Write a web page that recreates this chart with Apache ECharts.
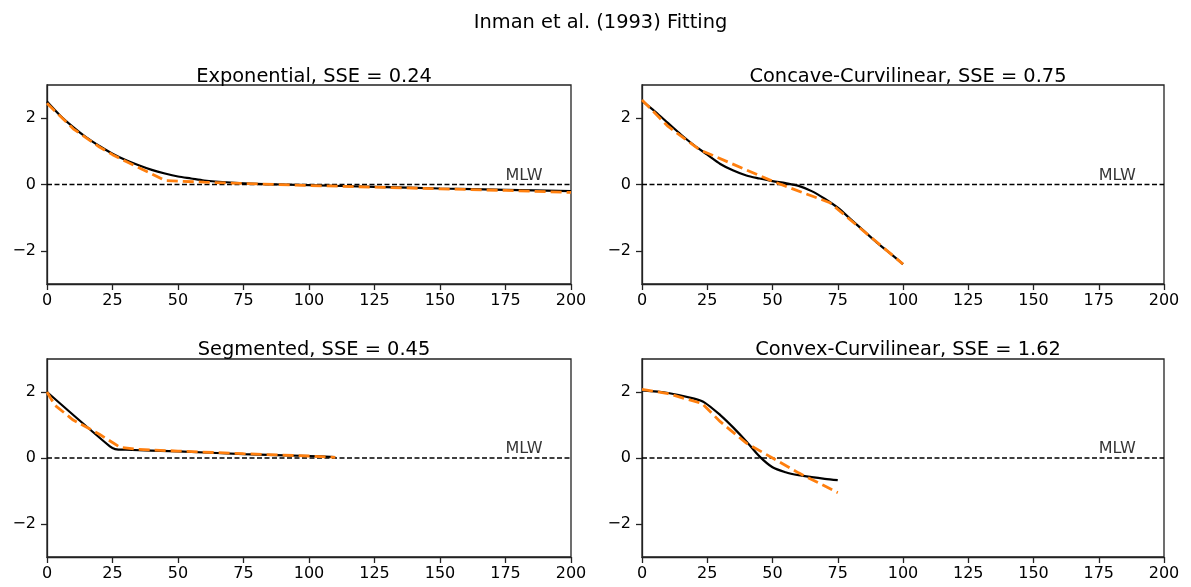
<!DOCTYPE html>
<html>
<head>
<meta charset="utf-8">
<script src="https://cdn.jsdelivr.net/npm/echarts@6/dist/echarts.min.js"></script>
<style>
html,body{margin:0;padding:0;background:#fff;}
#chart{width:1191px;height:587px;}
</style>
</head>
<body>
<div id="chart"></div>
<script>
// ---------- DATA ----------
const suptitle = 'Inman et al. (1993) Fitting';
const panelTitles = ['Exponential, SSE = 0.24', 'Concave-Curvilinear, SSE = 0.75', 'Segmented, SSE = 0.45', 'Convex-Curvilinear, SSE = 1.62'];
const xTicks = [0, 25, 50, 75, 100, 125, 150, 175, 200];
const yTicks = [-2, 0, 2];

// Exponential: measured profile (black) and fit (orange dashed)
const expProfile = [[0,2.5],[5,2.08],[10,1.73],[15,1.42],[20,1.16],[25,0.93],[30,0.74],[35,0.58],[40,0.44],[45,0.33],[50,0.24],[55,0.18],[60,0.12],[70,0.06],[80,0.02],[90,0.0],[100,-0.02],[125,-0.07],[150,-0.12],[175,-0.16],[200,-0.2]];
const expFit = [[0,2.45],[10,1.68],[20,1.13],[25,0.9],[30,0.7],[40,0.32],[45,0.12],[60,0.07],[75,0.03],[100,-0.03],[125,-0.08],[150,-0.13],[175,-0.18],[200,-0.24]];

// Concave-Curvilinear
const concProfile = [[0,2.52],[5,2.2],[10,1.85],[15,1.5],[20,1.18],[25,0.9],[30,0.62],[35,0.42],[40,0.27],[45,0.18],[50,0.1],[55,0.04],[60,-0.04],[65,-0.2],[70,-0.43],[75,-0.7],[80,-1.05],[85,-1.4],[90,-1.75],[95,-2.07],[100,-2.4]];
const concFit = [[0,2.55],[10,1.75],[22,1.05],[50,0.1],[55,-0.05],[72,-0.55],[100,-2.4]];

// Segmented
const segProfile = [[0,2.0],[24,0.35],[26,0.27],[30,0.25],[50,0.2],[75,0.12],[100,0.06],[110,0.03]];
const segFit = [[0,2.0],[3,1.6],[10,1.15],[20,0.72],[25,0.47],[28,0.32],[35,0.26],[50,0.21],[75,0.13],[100,0.06],[110,0.02]];

// Convex-Curvilinear
const convProfile = [[0,2.05],[10,1.97],[20,1.8],[24,1.68],[30,1.3],[35,0.92],[40,0.5],[45,0.05],[50,-0.28],[55,-0.43],[60,-0.52],[65,-0.58],[70,-0.63],[75,-0.67]];
const convFit = [[0,2.08],[10,1.95],[23,1.65],[30,1.1],[40,0.45],[50,0.0],[60,-0.45],[75,-1.05]];

const profiles = [expProfile, concProfile, segProfile, convProfile];
const fits = [expFit, concFit, segFit, convFit];

const mlwX = [0, 200];
const mlwY = [0, 0];
const mlwLabelX = 175;
const mlwLabel = 'MLW';
const xMin = 0, xMax = 200, yMin = -3, yMax = 3;

// ---------- LAYOUT ----------
const FONT = 'DejaVu Sans';
const grids = [
  {left: 47, top: 85, width: 524, height: 199},
  {left: 642, top: 85, width: 522, height: 199},
  {left: 47, top: 359, width: 524, height: 198},
  {left: 642, top: 359, width: 522, height: 198}
];
const titleTops = [62, 62, 335, 335];

const fmtNum = v => (v < 0 ? '\u2212' + Math.abs(v) : String(v));

const option = {
  animation: false,
  backgroundColor: '#fff',
  title: [{
    text: suptitle, left: 595.5, top: 8, textAlign: 'center',
    textStyle: {fontFamily: FONT, fontSize: 19.4, fontWeight: 'normal', color: '#000'}
  }].concat(panelTitles.map((t, i) => ({
    text: t, left: grids[i].left + grids[i].width / 2, top: titleTops[i], textAlign: 'center',
    textStyle: {fontFamily: FONT, fontSize: 19.4, fontWeight: 'normal', color: '#000'}
  }))),
  grid: grids.map(g => Object.assign({show: true, borderColor: '#222', borderWidth: 1.3, backgroundColor: 'transparent', containLabel: false}, g)),
  xAxis: grids.map((g, i) => ({
    type: 'value', gridIndex: i, min: xMin, max: xMax, interval: 25,
    splitLine: {show: false},
    axisLine: {show: true, onZero: false, lineStyle: {color: '#222', width: 1.3}},
    axisTick: {show: true, length: 6, lineStyle: {color: '#222', width: 1.3}},
    axisLabel: {show: true, margin: 9, fontFamily: FONT, fontSize: 16, color: '#000', formatter: fmtNum}
  })),
  yAxis: grids.map((g, i) => ({
    type: 'value', gridIndex: i, min: yMin, max: yMax,
    splitLine: {show: false},
    axisLine: {show: true, onZero: false, lineStyle: {color: '#222', width: 1.3}},
    axisTick: {show: true, length: 6, customValues: yTicks, lineStyle: {color: '#222', width: 1.3}},
    axisLabel: {show: true, margin: 11, fontFamily: FONT, fontSize: 16, color: '#000', customValues: yTicks, formatter: fmtNum}
  })),
  series: []
};

for (let i = 0; i < 4; i++) {
  option.series.push({
    type: 'line', xAxisIndex: i, yAxisIndex: i, data: mlwX.map((x, k) => [x, mlwY[k]]),
    showSymbol: false, silent: true, clip: true,
    lineStyle: {color: '#000', width: 1.3, type: [5, 2.5]}
  });
  option.series.push({
    type: 'line', xAxisIndex: i, yAxisIndex: i, data: profiles[i],
    showSymbol: false, silent: true, clip: true, smooth: 0.3,
    lineStyle: {color: '#000', width: 2.2}
  });
  option.series.push({
    type: 'line', xAxisIndex: i, yAxisIndex: i, data: fits[i],
    showSymbol: false, silent: true, clip: true,
    lineStyle: {color: '#ff7f0e', width: 2.8, type: [11, 5]}
  });
  option.series.push({
    type: 'scatter', xAxisIndex: i, yAxisIndex: i, data: [[mlwLabelX, 0]],
    symbolSize: 0.01, silent: true,
    label: {show: true, formatter: mlwLabel, position: [0, 0], align: 'left', verticalAlign: 'bottom',
      offset: [0, -1], fontFamily: FONT, fontSize: 16, color: '#000'}
  });
}

const chart = echarts.init(document.getElementById('chart'), null, {renderer: 'canvas'});
chart.setOption(option);
</script>
</body>
</html>
